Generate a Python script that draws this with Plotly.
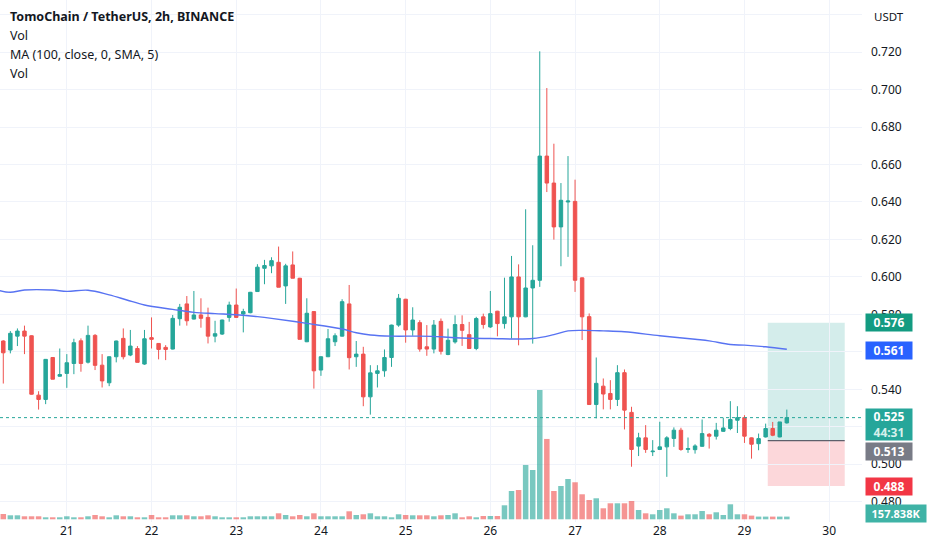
import numpy as np
import pandas as pd
import plotly.graph_objects as go

# ---------------- data ----------------
start_time = "2022-11-20 06:00"

open_ = [0.5658,0.5610,0.5684,0.5711,0.5686,0.5369,0.5346,0.5570,0.5470,0.5485,
         0.5538,0.5659,0.5545,0.5688,0.5529,0.5435,0.5574,0.5672,0.5583,0.5618,
         0.5535,0.5676,0.5645,0.5624,0.5615,0.5777,0.5856,0.5775,0.5797,0.5784,
         0.5684,0.5695,0.5784,0.5850,0.5802,0.5809,0.5922,0.6046,0.6059,0.6078,
         0.5952,0.6064,0.5993,0.5654,0.5815,0.5503,0.5574,0.5654,0.5684,0.5856,
         0.5574,0.5588,0.5360,0.5485,0.5499,0.5570,0.5743,0.5881,0.5717,0.5756,
         0.5627,0.5615,0.5763,0.5586,0.5653,0.5746,0.5692,0.5618,0.5787,0.5733,
         0.5817,0.5751,0.5787,0.6000,0.5787,0.5941,0.5982,0.6645,0.6501,0.6267,
         0.6400,0.6403,0.5995,0.5788,0.5319,0.5417,0.5378,0.5346,0.5489,0.5277,
         0.5097,0.5141,0.5067,0.5079,0.5093,0.5138,0.5182,0.5079,0.5078,0.5096,
         0.5160,0.5150,0.5176,0.5191,0.5235,0.5249,0.5141,0.5110,0.5146,0.5191,
         0.5146,0.5221]
high = [0.5662,0.5711,0.5725,0.5740,0.5688,0.5390,0.5562,0.5572,0.5618,0.5588,
        0.5670,0.5672,0.5740,0.5695,0.5588,0.5576,0.5660,0.5725,0.5717,0.5631,
        0.5717,0.5784,0.5647,0.5636,0.5797,0.5856,0.5898,0.5925,0.5886,0.5836,
        0.5766,0.5772,0.5868,0.5938,0.5830,0.5920,0.6068,0.6091,0.6105,0.6162,
        0.6070,0.6136,0.5995,0.5886,0.5817,0.5576,0.5722,0.5699,0.5881,0.5957,
        0.5658,0.5627,0.5529,0.5529,0.5613,0.5745,0.5909,0.5883,0.5838,0.5769,
        0.5743,0.5770,0.5778,0.5724,0.5795,0.5795,0.5760,0.5787,0.5804,0.5925,
        0.5819,0.5996,0.6112,0.6067,0.6361,0.6169,0.7204,0.7008,0.6711,0.6501,
        0.6645,0.6519,0.5997,0.5805,0.5570,0.5458,0.5449,0.5529,0.5506,0.5307,
        0.5168,0.5209,0.5129,0.5227,0.5150,0.5197,0.5195,0.5143,0.5107,0.5239,
        0.5167,0.5221,0.5249,0.5337,0.5310,0.5262,0.5143,0.5164,0.5217,0.5226,
        0.5226,0.5292]
low = [0.5431,0.5592,0.5631,0.5588,0.5372,0.5292,0.5321,0.5454,0.5467,0.5408,
       0.5481,0.5494,0.5538,0.5503,0.5410,0.5417,0.5544,0.5560,0.5577,0.5544,
       0.5531,0.5618,0.5560,0.5556,0.5613,0.5740,0.5740,0.5773,0.5729,0.5645,
       0.5651,0.5690,0.5761,0.5782,0.5704,0.5806,0.5922,0.5961,0.6020,0.5945,
       0.5856,0.5993,0.5667,0.5652,0.5404,0.5472,0.5572,0.5631,0.5682,0.5506,
       0.5520,0.5310,0.5265,0.5410,0.5467,0.5520,0.5734,0.5649,0.5686,0.5601,
       0.5579,0.5592,0.5586,0.5582,0.5644,0.5632,0.5618,0.5609,0.5724,0.5728,
       0.5683,0.5724,0.5671,0.5635,0.5785,0.5644,0.5947,0.6453,0.6199,0.6057,
       0.6107,0.5920,0.5663,0.5317,0.5245,0.5293,0.5293,0.5311,0.5186,0.4987,
       0.5044,0.5061,0.5044,0.5076,0.4933,0.5093,0.5072,0.5061,0.5057,0.5094,
       0.5084,0.5132,0.5173,0.5182,0.5167,0.5114,0.5030,0.5075,0.5143,0.5150,
       0.5144,0.5217]
close = [0.5595,0.5699,0.5711,0.5684,0.5374,0.5346,0.5560,0.5454,0.5479,0.5542,
         0.5649,0.5538,0.5688,0.5528,0.5445,0.5574,0.5658,0.5574,0.5631,0.5544,
         0.5670,0.5667,0.5613,0.5613,0.5779,0.5838,0.5766,0.5797,0.5779,0.5684,
         0.5697,0.5770,0.5850,0.5784,0.5815,0.5918,0.6052,0.6061,0.6087,0.5945,
         0.6059,0.5993,0.5667,0.5806,0.5499,0.5574,0.5670,0.5686,0.5868,0.5569,
         0.5588,0.5360,0.5488,0.5499,0.5570,0.5743,0.5886,0.5717,0.5770,0.5615,
         0.5615,0.5743,0.5603,0.5662,0.5746,0.5715,0.5618,0.5778,0.5746,0.5804,
         0.5751,0.5787,0.6000,0.5787,0.5941,0.5982,0.6645,0.6501,0.6267,0.6409,
         0.6405,0.5982,0.5787,0.5319,0.5432,0.5375,0.5346,0.5489,0.5289,0.5079,
         0.5141,0.5079,0.5070,0.5093,0.5141,0.5182,0.5079,0.5084,0.5098,0.5164,
         0.5150,0.5182,0.5194,0.5239,0.5249,0.5150,0.5107,0.5137,0.5191,0.5155,
         0.5226,0.5249]
volume_k = [310,234,234,176,176,176,117,117,117,176,
            117,117,176,252,176,117,234,176,176,117,
            117,252,117,117,234,234,234,176,176,234,
            176,117,117,117,117,176,176,176,176,351,
            252,176,252,176,351,176,176,176,176,468,
            252,293,351,176,176,117,293,252,234,234,
            234,176,234,252,351,117,176,117,193,193,
            193,819,1656,1714,3177,2884,7564,4698,1656,1948,
            2358,2165,1463,1129,1229,644,936,936,936,1071,
            544,351,293,544,644,351,216,293,293,486,
            293,410,252,878,293,293,216,158,158,158,
            158,157.838]

# MA(100) line, read at sample candle positions
ma_idx = [-0.5, 1, 3, 7, 9, 12, 15, 17.5, 20, 24, 27, 30, 33, 36, 38, 43, 48, 50, 52,
          55, 59, 62, 64, 69, 75, 78, 80, 82, 85, 88, 93, 98, 100, 103, 105, 108, 111]
ma_val = [0.5927, 0.5918, 0.5930, 0.5930, 0.5923, 0.5929, 0.5904, 0.5877, 0.5850, 0.5827,
          0.5811, 0.5804, 0.5798, 0.5788, 0.5779, 0.5752, 0.5722, 0.5702, 0.5690, 0.5684,
          0.5684, 0.5681, 0.5675, 0.5671, 0.5671, 0.5692, 0.5712, 0.5715, 0.5712, 0.5707,
          0.5686, 0.5667, 0.5659, 0.5639, 0.5636, 0.5627, 0.5614]

price_ticks = [0.48, 0.50, 0.52, 0.54, 0.56, 0.58, 0.60, 0.62, 0.64, 0.66, 0.68, 0.70, 0.72, 0.74]
# 0.520 / 0.560 are hidden behind the price badges in the reference
price_tick_text = ["0.480", "0.500", "", "0.540", "", "0.580", "0.600",
                   "0.620", "0.640", "0.660", "0.680", "0.700", "0.720", ""]

# position tool (long) levels
target_price = 0.5756
entry_price = 0.5126
stop_price = 0.4884
last_price = 0.5249
ma_last = 0.561

legend_lines = ["TomoChain / TetherUS, 2h, BINANCE", "Vol", "MA (100, close, 0, SMA, 5)", "Vol"]

# ---------------- build ----------------
GREEN = "#26a69a"
RED = "#ef5350"
TXT = "#131722"
FONT = "Noto Sans"

t0 = pd.Timestamp(start_time)
times = pd.date_range(t0, periods=len(open_), freq="2h")
ma_times = t0 + pd.to_timedelta(np.array(ma_idx) * 2, unit="h")
vol_colors = ["rgba(38,166,154,0.62)" if c >= o else "rgba(239,83,80,0.62)" for o, c in zip(open_, close)]

fig = go.Figure()
fig.add_trace(go.Bar(x=times, y=np.array(volume_k) * 1000, marker_color=vol_colors,
                     marker_line_width=0, width=2 * 3600 * 1000 * 0.78, yaxis="y",
                     showlegend=False, hoverinfo="skip"))
fig.add_trace(go.Candlestick(x=times, open=open_, high=high, low=low, close=close,
                             increasing=dict(line=dict(color=GREEN, width=1), fillcolor=GREEN),
                             decreasing=dict(line=dict(color=RED, width=1), fillcolor=RED),
                             whiskerwidth=0, yaxis="y2", showlegend=False))
fig.add_trace(go.Scatter(x=ma_times, y=ma_val, mode="lines", line=dict(color="#5873f2", width=1.4, shape="spline"),
                         yaxis="y2", showlegend=False, hoverinfo="skip"))

box_x0 = t0 + pd.Timedelta(hours=216.6)
box_x1 = t0 + pd.Timedelta(hours=238.4)
shapes = [
    dict(type="rect", xref="x", yref="y2", x0=box_x0, x1=box_x1, y0=entry_price, y1=target_price,
         fillcolor="rgba(38,166,154,0.2)", line=dict(width=0), layer="below"),
    dict(type="rect", xref="x", yref="y2", x0=box_x0, x1=box_x1, y0=stop_price, y1=entry_price,
         fillcolor="rgba(242,54,69,0.2)", line=dict(width=0), layer="below"),
    dict(type="line", xref="x", yref="y2", x0=box_x0, x1=box_x1, y0=entry_price, y1=entry_price,
         line=dict(color="#5d606b", width=1.2)),
    dict(type="line", xref="paper", yref="y2", x0=0, x1=1, y0=last_price, y1=last_price,
         line=dict(color=GREEN, width=1, dash="dot")),
]

annotations = []
for k, line in enumerate(legend_lines):
    annotations.append(dict(xref="paper", yref="paper", x=0, y=1, xanchor="left", yanchor="middle",
                            xshift=8, yshift=-16 - 19.3 * k, showarrow=False,
                            text=("<b>%s</b>" % line) if k == 0 else line,
                            font=dict(family=FONT, size=12.5, color=TXT)))
annotations.append(dict(xref="paper", yref="paper", x=1, y=1, xanchor="left", yanchor="middle",
                        xshift=10, yshift=-16, showarrow=False, text="USDT",
                        font=dict(family=FONT, size=11.5, color=TXT)))


def badge(y, text, color, yref="y2", yanchor="middle", yshift=0, h=15, w=44, size=12):
    annotations.append(dict(xref="paper", yref=yref, x=1, y=y, xanchor="left", yanchor=yanchor,
                            xshift=3, yshift=yshift, showarrow=False, text="<b>%s</b>" % text,
                            bgcolor=color, width=w, height=h, borderpad=1, align="center",
                            font=dict(family=FONT, size=size, color="white")))


badge(target_price, "%.3f" % 0.576, "#139b81")
badge(ma_last, "%.3f" % ma_last, "#2962ff")
badge(0.5299, "0.525<br><span style='color:#d7f0ec'>44:31</span>", GREEN, yanchor="top", h=29)
badge(entry_price, "%.3f" % 0.513, "#787b86", yanchor="top", yshift=-1)
badge(stop_price, "%.3f" % 0.488, "#f23645")
badge(volume_k[-1] * 1000, "157.838K", "#3fb3a6", yref="y", yshift=3, w=58, size=11)

fig.update_layout(
    width=932, height=550,
    margin=dict(l=0, r=70, t=0, b=28),
    paper_bgcolor="white", plot_bgcolor="white",
    font=dict(family=FONT, size=12, color=TXT),
    showlegend=False, dragmode=False,
    shapes=shapes, annotations=annotations,
    xaxis=dict(type="date", range=["2022-11-20 05:04", "2022-11-30 09:18"],
               tick0="2022-11-21", dtick=86400000, tickformat="%d",
               showgrid=True, gridcolor="#f0f3fa", gridwidth=1, zeroline=False,
               showline=False, ticks="", rangeslider=dict(visible=False),
               tickfont=dict(family=FONT, size=12, color=TXT)),
    yaxis=dict(range=[-157800, 30360000], visible=False, showgrid=False, fixedrange=True),
    yaxis2=dict(overlaying="y", side="right", range=[0.4692, 0.7478],
                tickvals=price_ticks, ticktext=price_tick_text,
                showgrid=True, gridcolor="#f0f3fa", gridwidth=1, zeroline=False,
                showline=False, ticks="", ticklabelstandoff=8,
                tickfont=dict(family=FONT, size=12, color=TXT)),
)

fig.write_html("out.html", config={"displayModeBar": False},
               post_script="document.body.style.margin='0px';")
